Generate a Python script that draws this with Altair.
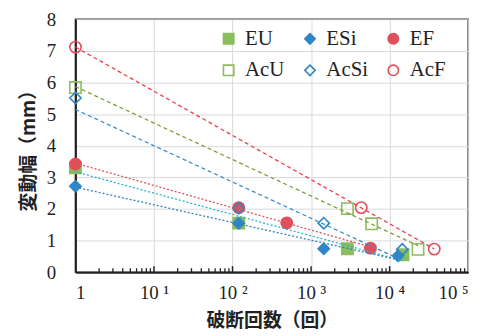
import altair as alt
import pandas as pd

series_names = ["EU", "ESi", "EF", "AcU", "AcSi", "AcF"]
EU_x = [1, 120, 2900, 14800]
EU_y = [3.30, 1.55, 0.74, 0.55]
ESi_x = [1, 120, 1450, 12800]
ESi_y = [2.72, 1.55, 0.74, 0.52]
EF_x = [1, 120, 490, 5700]
EF_y = [3.42, 2.04, 1.56, 0.76]
AcU_x = [1, 2900, 5900, 23000]
AcU_y = [5.84, 2.01, 1.53, 0.72]
AcSi_x = [1, 120, 1450, 14500]
AcSi_y = [5.51, 2.02, 1.55, 0.72]
AcF_x = [1, 4350, 37000]
AcF_y = [7.12, 2.04, 0.73]

x_major = [1, 10, 100, 1000, 10000, 100000]
x_minor = [m * 10 ** d for d in range(5) for m in range(2, 10)]
y_ticks = [0, 1, 2, 3, 4, 5, 6, 7, 8]

marker_shapes = ["square", "diamond", "circle", "square", "diamond", "circle"]
marker_stroke = ["#8abd5c", "#2f86c6", "#e0505a", "#8abd5c", "#2f86c6", "#e0505a"]
marker_fill = ["#8abd5c", "#2f86c6", "#e0505a", "transparent", "transparent", "transparent"]
line_colors = ["#22b8d0", "#2f7fc8", "#e0505a", "#7c9f3e", "#3a8fd0", "#e8404a"]
line_dash = [[2, 2], [2, 2], [2, 2], [4, 3], [4, 3], [4, 3]]

xs = [EU_x, ESi_x, EF_x, AcU_x, AcSi_x, AcF_x]
ys = [EU_y, ESi_y, EF_y, AcU_y, AcSi_y, AcF_y]
rows = []
for name, xv, yv in zip(series_names, xs, ys):
    for a, b in zip(xv, yv):
        rows.append({"series": name, "x": a, "y": b})
df = pd.DataFrame(rows)

W, H = 396, 255
SERIF = "Liberation Serif"
xscale = alt.Scale(type="log", domain=[1, 100000])
yscale = alt.Scale(domain=[0, 8])

sup = "['', '\u00b9', '\u00b2', '\u00b3', '\u2074', '\u2075']"
xaxis = alt.Axis(
    values=x_major, grid=True, ticks=False, domain=True, labelOverlap=False,
    labelExpr=f"datum.value == 1 ? '1' : '10 ' + {sup}[round(log(datum.value)/LN10)]",
    title="破断回数（回）", labelPadding=12, titlePadding=9,
)
yaxis = alt.Axis(
    values=y_ticks, grid=True, ticks=False, domain=True, labelOverlap=False,
    title="変動幅（mm）", labelPadding=20, titlePadding=8,
)

points = alt.Chart(df).mark_point(opacity=1, strokeWidth=1.6, size=130).encode(
    x=alt.X("x:Q", scale=xscale, axis=xaxis),
    y=alt.Y("y:Q", scale=yscale, axis=yaxis),
    shape=alt.Shape("series:N", scale=alt.Scale(domain=series_names, range=marker_shapes),
                    legend=alt.Legend(title=None)),
    fill=alt.Fill("series:N", scale=alt.Scale(domain=series_names, range=marker_fill),
                  legend=alt.Legend(title=None)),
    stroke=alt.Stroke("series:N", scale=alt.Scale(domain=series_names, range=marker_stroke),
                      legend=alt.Legend(title=None)),
)

lines = []
for name, col, dash in zip(series_names, line_colors, line_dash):
    ln = alt.Chart(df).transform_filter(alt.datum.series == name).transform_regression(
        "x", "y", method="log"
    ).mark_line(color=col, strokeDash=dash, strokeWidth=1.3).encode(
        x=alt.X("x:Q", scale=xscale, axis=xaxis),
        y=alt.Y("y:Q", scale=yscale, axis=yaxis),
    )
    lines.append(ln)

tick_df = pd.DataFrame({"t": x_minor})
minor = alt.Chart(tick_df).mark_rule(color="#222", strokeWidth=1.3).encode(
    x=alt.X("t:Q", scale=xscale, axis=xaxis),
    y=alt.value(H),
    y2=alt.value(H - 4),
)
major = alt.Chart(pd.DataFrame({"t": x_major[1:-1]})).mark_rule(color="#222", strokeWidth=1.5).encode(
    x=alt.X("t:Q", scale=xscale, axis=xaxis),
    y=alt.value(H),
    y2=alt.value(H - 6),
)

chart = alt.layer(points, *lines, minor, major).properties(
    width=W, height=H,
    padding={"left": 68, "top": 10, "right": 22, "bottom": 60},
    autosize=alt.AutoSizeParams(type="none"),
).configure_view(
    stroke="#333", strokeWidth=1.5
).configure_axis(
    labelFont=SERIF, labelFontSize=19, labelColor="#222",
    titleFont="Noto Sans CJK JP", titleFontSize=19, titleFontWeight="bold", titleColor="#222",
    gridColor="#d9d9d9", gridWidth=1, domainColor="#222", domainWidth=2,
).configure_legend(
    orient="none", legendX=144, legendY=9, columns=3, direction="horizontal",
    labelFont=SERIF, labelFontSize=21, labelColor="#222",
    symbolSize=110, symbolStrokeWidth=1.6, labelOffset=6,
    columnPadding=15, rowPadding=10, padding=0,
)

chart.save("out.html", embed_options={"renderer": "svg", "actions": False})
